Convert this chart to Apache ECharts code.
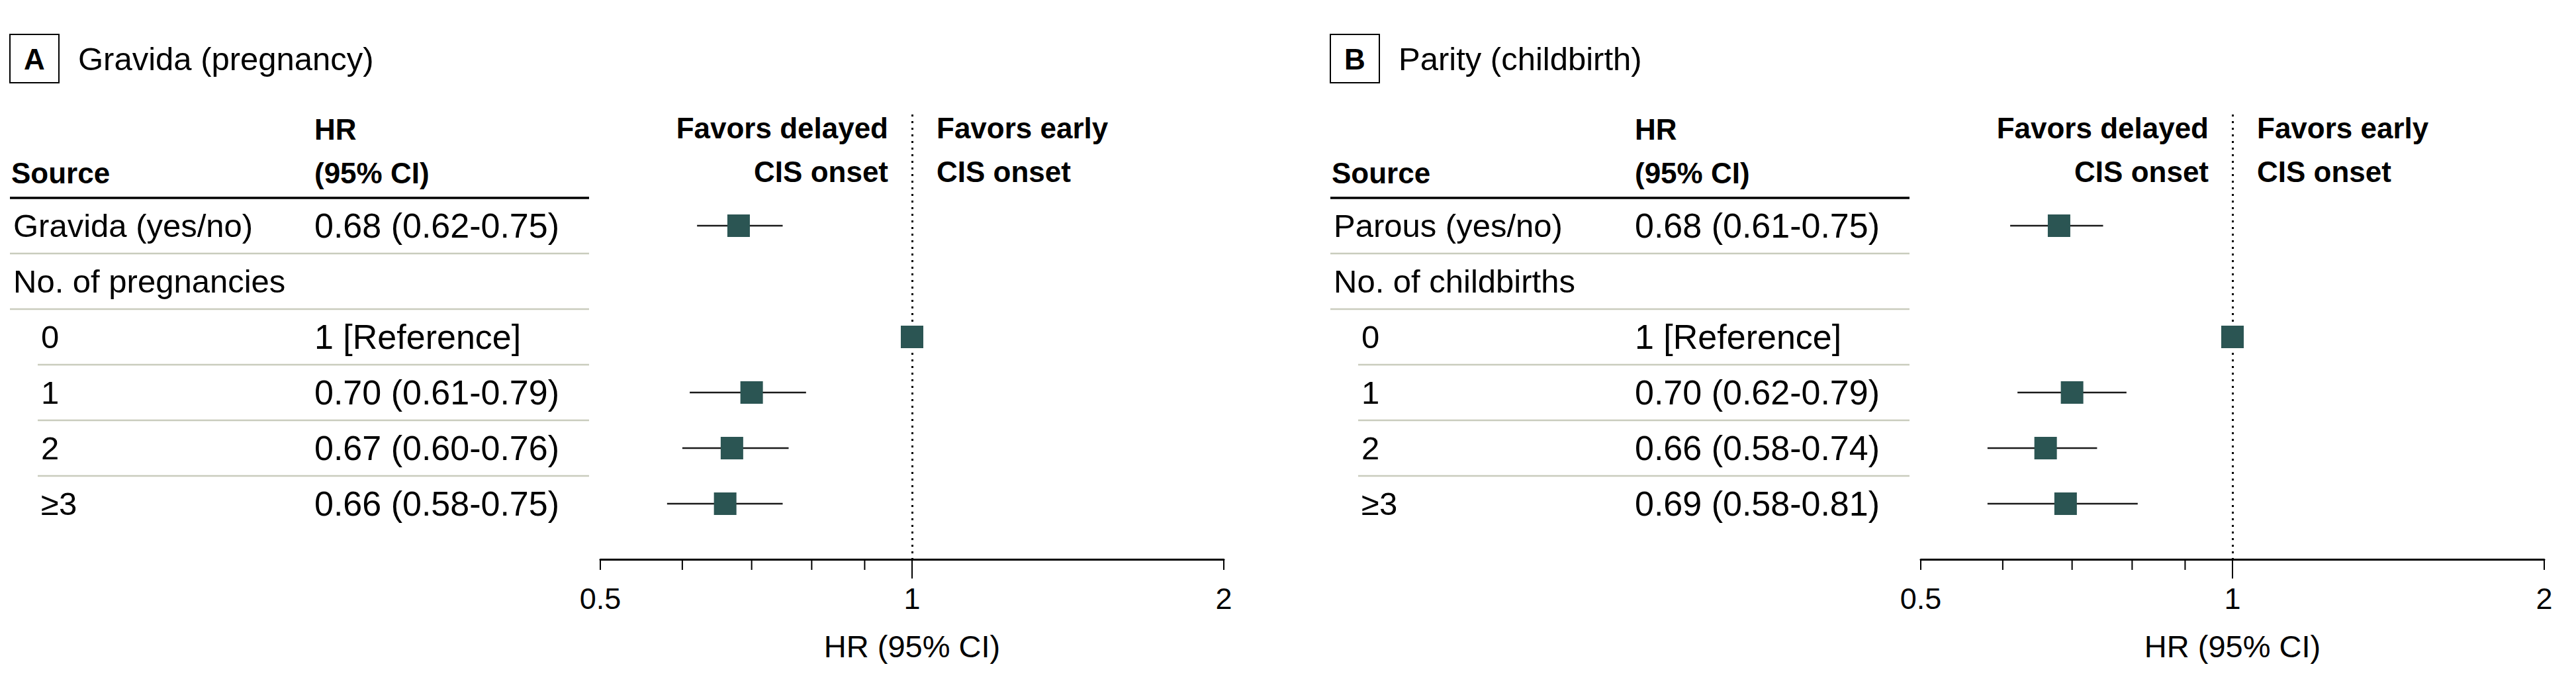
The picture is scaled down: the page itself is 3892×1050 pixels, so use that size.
<!DOCTYPE html>
<html>
<head>
<meta charset="utf-8">
<title>Gravida / Parity and CIS onset</title>
<script src="https://cdn.jsdelivr.net/npm/echarts@6/dist/echarts.min.js"></script>
<style>
  html, body { margin: 0; padding: 0; background: #fff; }
  #chart { width: 3892px; height: 1050px; }
</style>
</head>
<body>
<div id="chart"></div>
<script>
  // panel A: gravida (pregnancy)
  const rowLabelsA = ['Gravida (yes/no)', 'No. of pregnancies', '0', '1', '2', '≥3']
  const hrTextA = ['0.68 (0.62-0.75)', '', '1 [Reference]', '0.70 (0.61-0.79)', '0.67 (0.60-0.76)', '0.66 (0.58-0.75)']
  const hrA = [0.68, null, 1, 0.70, 0.67, 0.66]
  const lowA = [0.62, null, null, 0.61, 0.60, 0.58]
  const highA = [0.75, null, null, 0.79, 0.76, 0.75]

  // panel B: parity (childbirth)
  const rowLabelsB = ['Parous (yes/no)', 'No. of childbirths', '0', '1', '2', '≥3']
  const hrTextB = ['0.68 (0.61-0.75)', '', '1 [Reference]', '0.70 (0.62-0.79)', '0.66 (0.58-0.74)', '0.69 (0.58-0.81)']
  const hrB = [0.68, null, 1, 0.70, 0.66, 0.69]
  const lowB = [0.61, null, null, 0.62, 0.58, 0.58]
  const highB = [0.75, null, null, 0.79, 0.74, 0.81]

  // sub rows (the counts) are indented
  const rowIndent = [0, 0, 1, 1, 1, 1]

  // axis ticks
  const tickValues = [0.5, 0.6, 0.7, 0.8, 0.9, 1, 2]
  const tickLabels = [0.5, 1, 2]

  const FONT = '"Liberation Sans", Arial, sans-serif'
  const MARK_COLOR = '#2b5553'
  const RULE_COLOR = '#c9ccbd'

  const panels = [
    {offset: 0, letter: 'A', title: 'Gravida (pregnancy)', labels: rowLabelsA, text: hrTextA, hr: hrA, low: lowA, high: highA},
    {offset: 1995, letter: 'B', title: 'Parity (childbirth)', labels: rowLabelsB, text: hrTextB, hr: hrB, low: lowB, high: highB}
  ]

  const chart = echarts.init(document.getElementById('chart'), null, {renderer: 'svg'})

  function getSeries (p, i) {
    const points = []
    const whiskers = []
    p.hr.forEach((v, row) => {
      if (v == null) return
      points.push([v, row])
      if (p.low[row] != null) whiskers.push([p.low[row], row, p.high[row]])
    })
    return [
      {
        // ticks drawn by hand: the one at 1 is longer, minor ones at 0.6-0.9
        type: 'custom',
        xAxisIndex: i,
        yAxisIndex: i,
        clip: false,
        silent: true,
        z: 1,
        data: tickValues.map(v => [v, 6]),
        renderItem (params, api) {
          const v = api.value(0)
          const pt = api.coord([v, api.value(1)])
          const len = v === 1 ? 29 : 16
          return {
            type: 'line',
            shape: {x1: pt[0], y1: pt[1], x2: pt[0], y2: pt[1] + len},
            style: {stroke: '#000', lineWidth: 2}
          }
        },
        // reference line at HR = 1, under the markers
        markLine: {
          silent: true,
          z: 1,
          symbol: ['none', 'none'],
          label: {show: false},
          lineStyle: {type: [3, 7], width: 3, color: '#000'},
          data: [{xAxis: 1}]
        }
      },
      {
        type: 'custom',
        xAxisIndex: i,
        yAxisIndex: i,
        silent: true,
        z: 4,
        encode: {x: 0, y: 1},
        data: whiskers,
        renderItem (params, api) {
          const a = api.coord([api.value(0), api.value(1)])
          const b = api.coord([api.value(2), api.value(1)])
          return {
            type: 'line',
            shape: {x1: a[0], y1: a[1], x2: b[0], y2: b[1]},
            style: {stroke: '#1a1a1a', lineWidth: 2.5}
          }
        }
      },
      {
        type: 'scatter',
        xAxisIndex: i,
        yAxisIndex: i,
        silent: true,
        z: 10,
        symbol: 'rect',
        symbolSize: 34,
        itemStyle: {color: MARK_COLOR, opacity: 1},
        data: points
      }
    ]
  }

  const option = {
    animation: false,
    backgroundColor: '#fff',
    textStyle: {fontFamily: FONT},
    grid: panels.map(p => ({left: 907 + p.offset, top: 173, width: 942, height: 672})),
    xAxis: panels.map((p, i) => ({
      type: 'log',
      logBase: 2,
      min: 0.5,
      max: 2,
      interval: 1,
      gridIndex: i,
      name: 'HR (95% CI)',
      nameLocation: 'middle',
      nameGap: 108,
      nameTextStyle: {fontSize: 47, color: '#000', fontFamily: FONT},
      axisLine: {onZero: false, lineStyle: {color: '#000', width: 3}},
      axisTick: {show: false},
      splitLine: {show: false},
      axisLabel: {
        fontSize: 45,
        color: '#000',
        margin: 37,
        fontFamily: FONT,
        formatter (v) {
          const hit = tickLabels.find(t => Math.abs(t - v) < 1e-6)
          return hit == null ? '' : String(hit)
        }
      }
    })),
    yAxis: panels.map((p, i) => ({
      type: 'value',
      gridIndex: i,
      min: -2,
      max: 6,
      inverse: true,
      show: false
    })),
    series: panels.reduce((all, p, i) => all.concat(getSeries(p, i)), [])
  }

  chart.setOption(option)

  // table part, rows placed with the same y scale as the markers
  function rowY (gridIndex, row) {
    return chart.convertToPixel({gridIndex}, [1, row])[1]
  }

  function txt (x, y, text, opts) {
    opts = opts || {}
    return {
      type: 'text',
      x,
      y,
      silent: true,
      style: {
        text,
        fill: '#000',
        fontSize: opts.size || 49,
        fontWeight: opts.bold ? 'bold' : 'normal',
        fontFamily: FONT,
        align: opts.align || 'left',
        textAlign: opts.align || 'left',
        verticalAlign: 'middle',
        textVerticalAlign: 'middle'
      }
    }
  }

  function hline (x1, x2, y, color, width) {
    return {
      type: 'line',
      silent: true,
      shape: {x1, y1: y, x2, y2: y},
      style: {stroke: color, lineWidth: width}
    }
  }

  const graphic = []
  panels.forEach((p, gi) => {
    const o = p.offset
    graphic.push({
      type: 'rect',
      silent: true,
      shape: {x: 15 + o, y: 52, width: 74, height: 73},
      style: {fill: 'none', stroke: '#000', lineWidth: 2}
    })
    graphic.push(txt(52 + o, 89, p.letter, {bold: true, size: 44, align: 'center'}))
    graphic.push(txt(118 + o, 89, p.title))
    graphic.push(txt(475 + o, 195, 'HR', {bold: true, size: 44}))
    graphic.push(txt(475 + o, 261, '(95% CI)', {bold: true, size: 44}))
    graphic.push(txt(17 + o, 261, 'Source', {bold: true, size: 44}))
    graphic.push(txt(1342 + o, 193, 'Favors delayed', {bold: true, size: 44, align: 'right'}))
    graphic.push(txt(1342 + o, 259, 'CIS onset', {bold: true, size: 44, align: 'right'}))
    graphic.push(txt(1415 + o, 193, 'Favors early', {bold: true, size: 44}))
    graphic.push(txt(1415 + o, 259, 'CIS onset', {bold: true, size: 44}))

    graphic.push(hline(15 + o, 890 + o, rowY(gi, -0.5), '#000', 3.5))
    p.labels.forEach((label, row) => {
      const y = rowY(gi, row)
      graphic.push(txt((rowIndent[row] ? 62 : 20) + o, y, label))
      if (p.text[row]) graphic.push(txt(475 + o, y, p.text[row], {size: 52}))
      if (row < p.labels.length - 1) {
        const start = rowIndent[row] && rowIndent[row + 1] ? 57 : 15
        graphic.push(hline(start + o, 890 + o, rowY(gi, row + 0.5), RULE_COLOR, 2.5))
      }
    })
  })

  chart.setOption({graphic})
</script>
</body>
</html>
